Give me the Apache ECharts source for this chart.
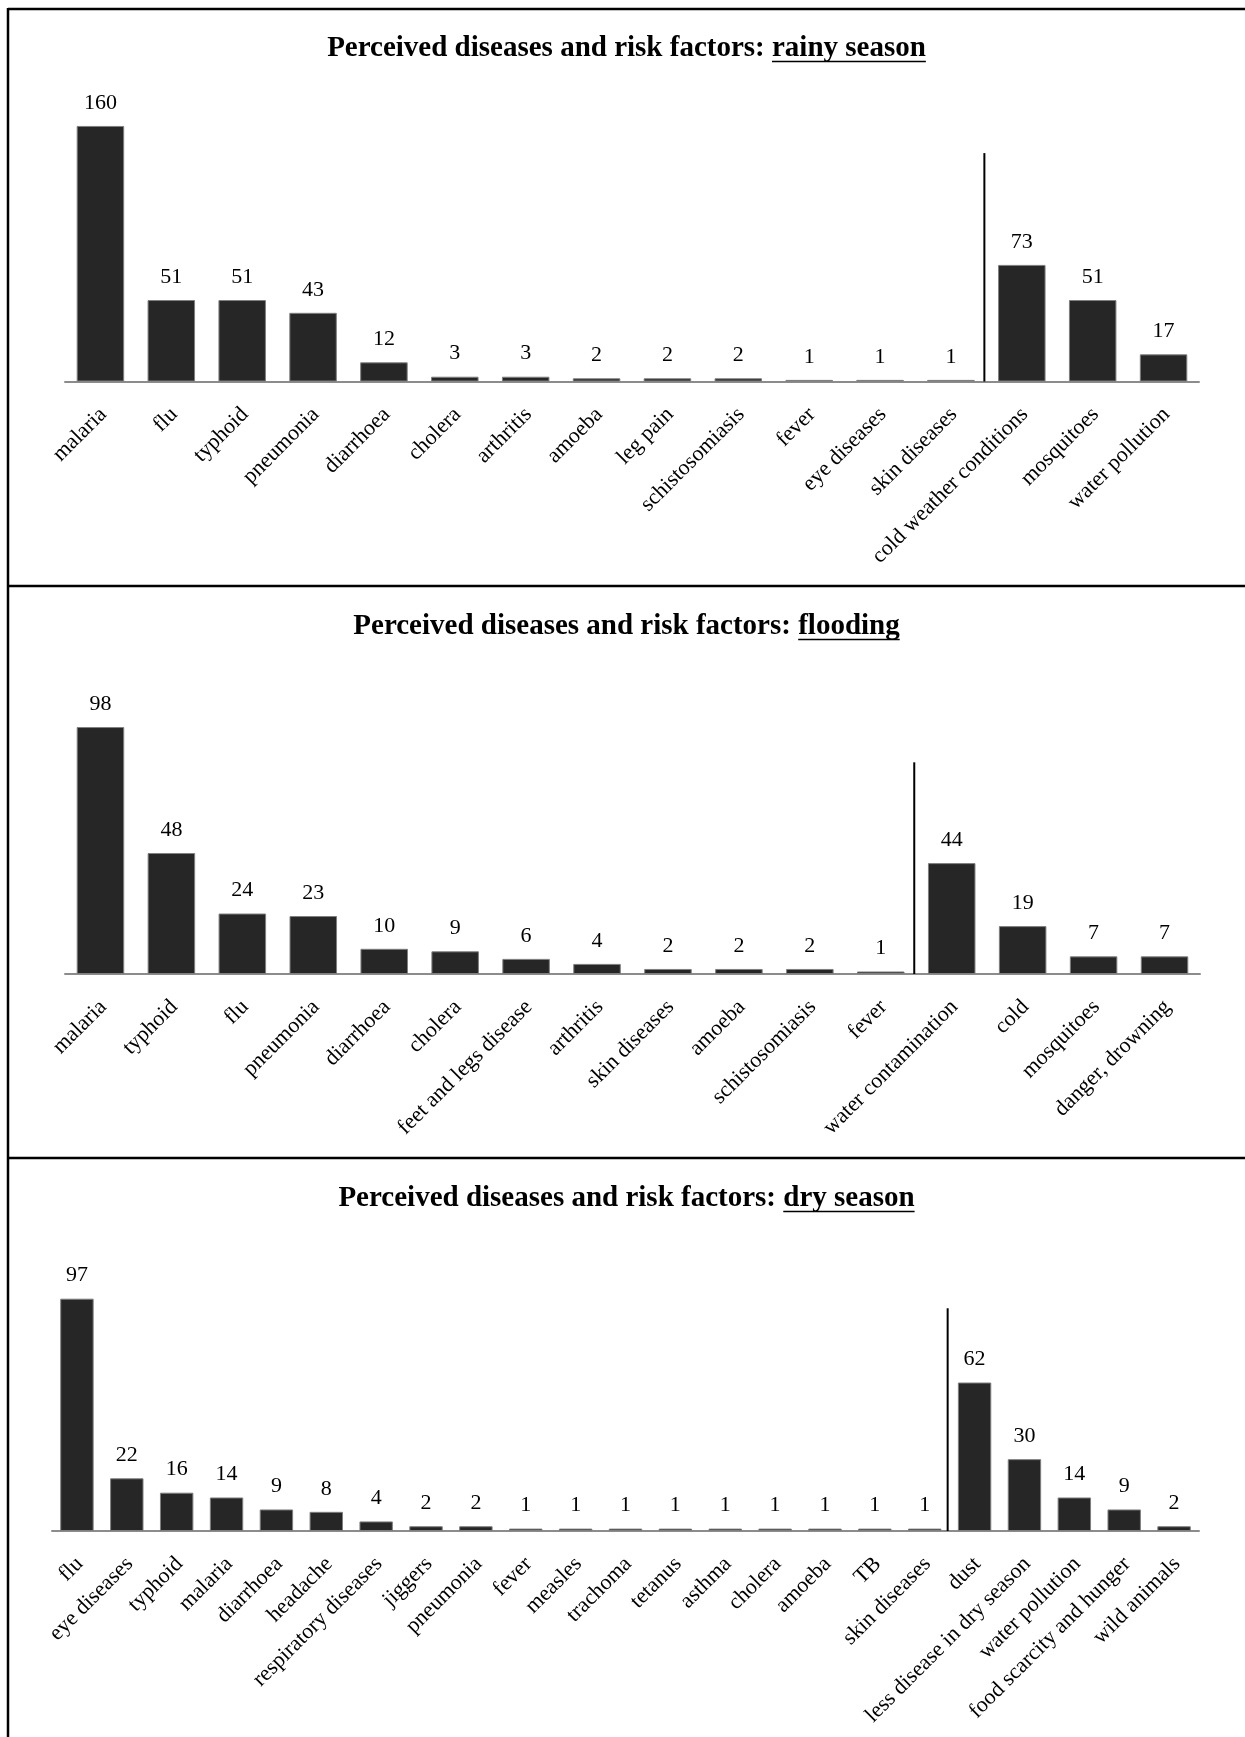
<!DOCTYPE html>
<html>
<head>
<meta charset="utf-8">
<script src="https://cdn.jsdelivr.net/npm/echarts@6/dist/echarts.min.js"></script>
<style>
html,body{margin:0;padding:0;background:#fff;}
#c{width:1245px;height:1737px;}
</style>
</head>
<body>
<div id="c"></div>
<script>
// ---------- DATA ----------
const titlePrefix = 'Perceived diseases and risk factors: ';

const rainyTitle = 'rainy season';
const rainyCategories = ['malaria','flu','typhoid','pneumonia','diarrhoea','cholera','arthritis','amoeba','leg pain','schistosomiasis','fever','eye diseases','skin diseases','cold weather conditions','mosquitoes','water pollution'];
const rainyValues = [160,51,51,43,12,3,3,2,2,2,1,1,1,73,51,17];
const rainyDiseaseCount = 13;

const floodTitle = 'flooding';
const floodCategories = ['malaria','typhoid','flu','pneumonia','diarrhoea','cholera','feet and legs disease','arthritis','skin diseases','amoeba','schistosomiasis','fever','water contamination','cold','mosquitoes','danger, drowning'];
const floodValues = [98,48,24,23,10,9,6,4,2,2,2,1,44,19,7,7];
const floodDiseaseCount = 12;

const dryTitle = 'dry season';
const dryCategories = ['flu','eye diseases','typhoid','malaria','diarrhoea','headache','respiratory diseases','jiggers','pneumonia','fever','measles','trachoma','tetanus','asthma','cholera','amoeba','TB','skin diseases','dust','less disease in dry season','water pollution','food scarcity and hunger','wild animals'];
const dryValues = [97,22,16,14,9,8,4,2,2,1,1,1,1,1,1,1,1,1,62,30,14,9,2];
const dryDiseaseCount = 18;

// ---------- LAYOUT / STYLE ----------
const FONT = '"Liberation Serif", "Times New Roman", serif';
const TITLE_SIZE = 29;
const panels = [
  {cats: rainyCategories, vals: rainyValues, split: rainyDiseaseCount, title: rainyTitle,
   grid: {left: 65, top: 94, width: 1134, height: 287.5}, max: 180, sepTop: 143, titleY: 49},
  {cats: floodCategories, vals: floodValues, split: floodDiseaseCount, title: floodTitle,
   grid: {left: 65, top: 671.6, width: 1135, height: 302.4}, max: 120, sepTop: 84, titleY: 627},
  {cats: dryCategories, vals: dryValues, split: dryDiseaseCount, title: dryTitle,
   grid: {left: 52, top: 1243.6, width: 1147, height: 287.4}, max: 120, sepTop: 93, titleY: 1199}
];

const chart = echarts.init(document.getElementById('c'), null, {renderer: 'canvas'});

const option = {
  animation: false,
  backgroundColor: '#ffffff',
  grid: panels.map(p => Object.assign({containLabel: false}, p.grid)),
  xAxis: panels.map((p, i) => ({
    type: 'category', gridIndex: i, data: p.cats,
    axisTick: {show: false},
    axisLine: {lineStyle: {color: '#8c8c8c', width: 2}},
    axisLabel: {interval: 0, rotate: 45, margin: 17, fontFamily: FONT, fontSize: 22,
                color: '#000', align: 'right', verticalAlign: 'top', padding: [0, 7, 0, 0]},
    splitLine: {show: false}
  })),
  yAxis: panels.map((p, i) => ({
    type: 'value', gridIndex: i, min: 0, max: p.max, show: false, splitLine: {show: false}
  })),
  series: panels.map((p, i) => ({
    type: 'bar', xAxisIndex: i, yAxisIndex: i, data: p.vals,
    barCategoryGap: '33%', silent: true,
    itemStyle: {color: '#262626', borderColor: '#7f7f7f', borderWidth: 1},
    label: {show: true, position: 'top', distance: 12, fontFamily: FONT, fontSize: 22, color: '#000'}
  }))
};
chart.setOption(option);

// ---------- GRAPHICS: borders, titles, separators ----------
const cv = document.createElement('canvas').getContext('2d');
const g = [];
const border = {stroke: '#000', lineWidth: 2.5};
g.push({type: 'line', shape: {x1: 8, y1: 9, x2: 1245, y2: 9}, style: border});
g.push({type: 'line', shape: {x1: 8, y1: 8, x2: 8, y2: 1737}, style: border});
g.push({type: 'line', shape: {x1: 8, y1: 586, x2: 1245, y2: 586}, style: border});
g.push({type: 'line', shape: {x1: 8, y1: 1158, x2: 1245, y2: 1158}, style: border});

panels.forEach((p, i) => {
  const xa = chart.convertToPixel({xAxisIndex: i}, p.cats[p.split - 1]);
  const xb = chart.convertToPixel({xAxisIndex: i}, p.cats[p.split]);
  const x = (xa + xb) / 2 - 2;
  const yTop = chart.convertToPixel({yAxisIndex: i}, p.sepTop);
  const yBot = chart.convertToPixel({yAxisIndex: i}, 0);
  g.push({type: 'line', z: 100, shape: {x1: x, y1: yTop, x2: x, y2: yBot}, style: {stroke: '#000', lineWidth: 2}});

  cv.font = 'bold ' + TITLE_SIZE + 'px ' + FONT;
  const w1 = cv.measureText(titlePrefix).width;
  const w2 = cv.measureText(p.title).width;
  const x0 = 626.5 - (w1 + w2) / 2;
  const ts = {fill: '#000', fontSize: TITLE_SIZE, fontWeight: 'bold', fontFamily: FONT, align: 'left', verticalAlign: 'middle'};
  g.push({type: 'text', x: x0, y: p.titleY, style: Object.assign({text: titlePrefix}, ts)});
  g.push({type: 'text', x: x0 + w1, y: p.titleY, style: Object.assign({text: p.title}, ts)});
  g.push({type: 'line', shape: {x1: x0 + w1, y1: p.titleY + 12.5, x2: x0 + w1 + w2, y2: p.titleY + 12.5},
          style: {stroke: '#000', lineWidth: 1.6}});
});
chart.setOption({graphic: g});
</script>
</body>
</html>
